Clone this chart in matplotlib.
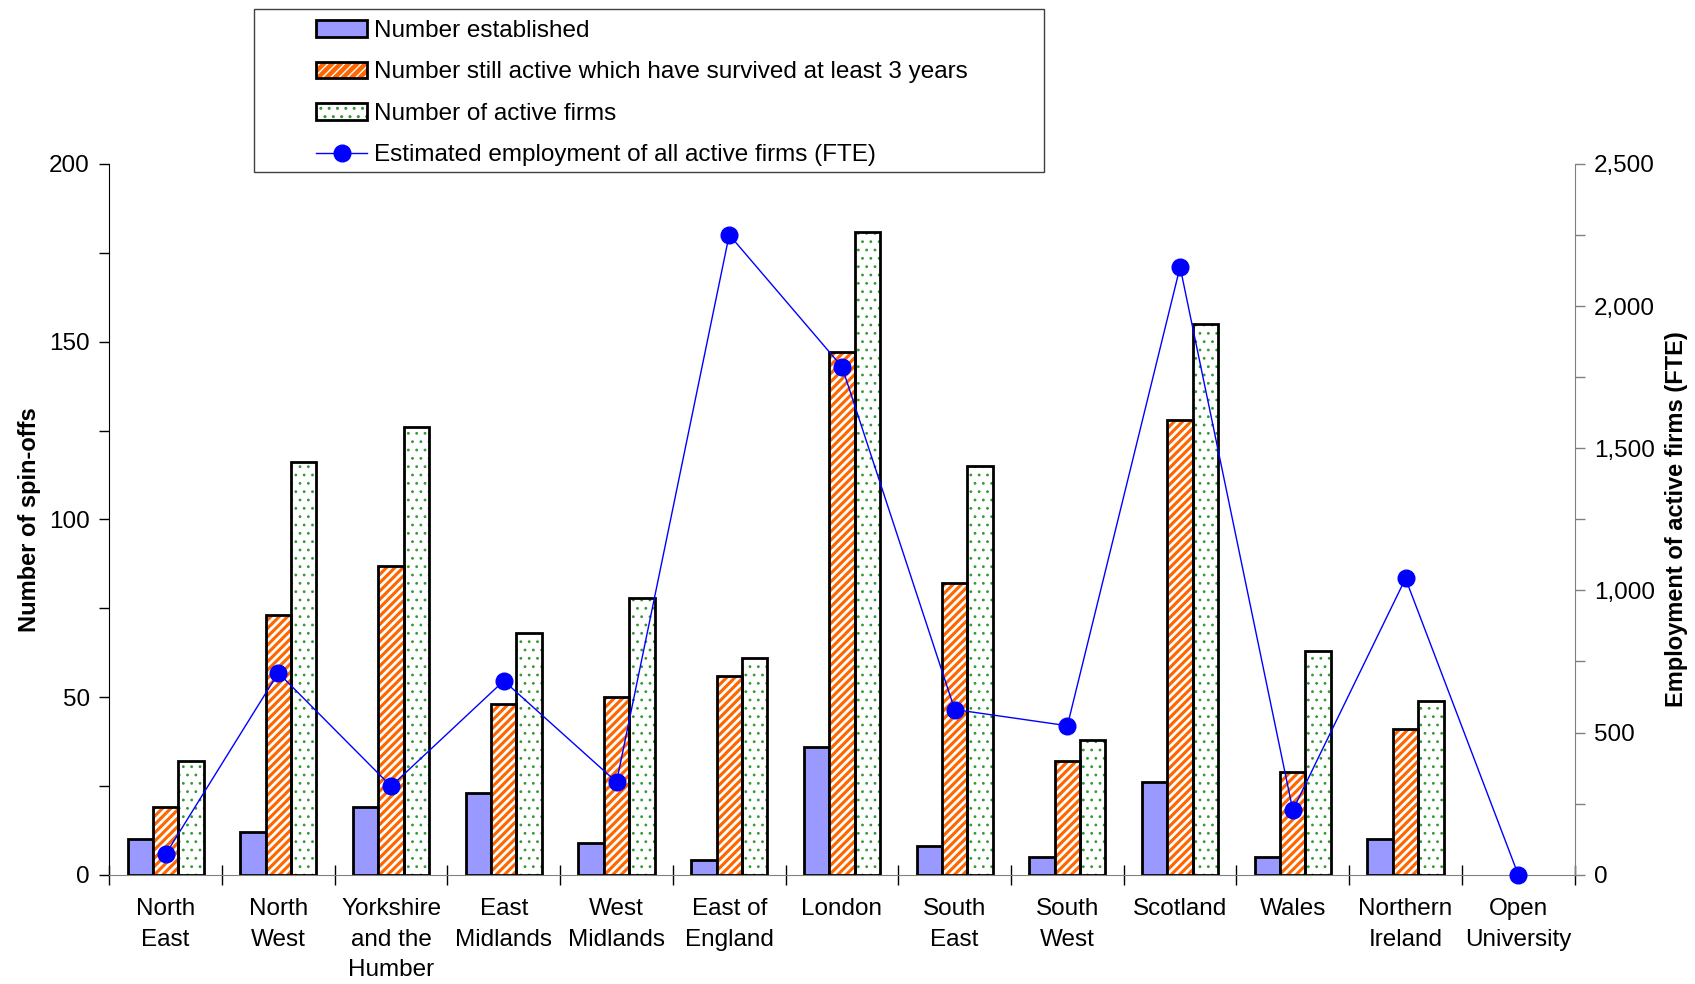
import matplotlib
matplotlib.use("Agg")
import matplotlib.pyplot as plt
import numpy as np
from matplotlib.patches import Rectangle
from matplotlib.ticker import MultipleLocator, FuncFormatter, FixedLocator
from matplotlib.legend_handler import HandlerTuple

plt.rcParams['font.family'] = ['Liberation Sans', 'DejaVu Sans']

categories = ["North\nEast", "North\nWest", "Yorkshire\nand the\nHumber", "East\nMidlands",
              "West\nMidlands", "East of\nEngland", "London", "South\nEast", "South\nWest",
              "Scotland", "Wales", "Northern\nIreland", "Open\nUniversity"]
established = [10, 12, 19, 23, 9, 4, 36, 8, 5, 26, 5, 10, 0]
survived3 = [19, 73, 87, 48, 50, 56, 147, 82, 32, 128, 29, 41, 0]
active = [32, 116, 126, 68, 78, 61, 181, 115, 38, 155, 63, 49, 0]
employment = [72, 710, 311, 682, 326, 2251, 1787, 581, 524, 2138, 227, 1042, 0]

labels = ["Number established",
          "Number still active which have survived at least 3 years",
          "Number of active firms",
          "Estimated employment of all active firms (FTE)"]

FS = 17.5
LFS = 17

W, H = 1695, 984
fig = plt.figure(figsize=(W / 100, H / 100), dpi=100)
ax = fig.add_axes([109.3 / W, 1 - 874.7 / H, (1574.6 - 109.3) / W, (874.7 - 164) / H])

x = np.arange(len(categories))
bw = 0.225
edge_lw = 2.0

b1 = ax.bar(x - bw, established, bw, color="#9999FF", edgecolor="black", linewidth=edge_lw, zorder=2)

with plt.rc_context({'hatch.linewidth': 2.0}):
    b2h = ax.bar(x, survived3, bw, color="#FF6600", edgecolor="white", linewidth=0, hatch="////", zorder=2)
b2e = ax.bar(x, survived3, bw, fill=False, edgecolor="black", linewidth=edge_lw, zorder=3)

with plt.rc_context({'hatch.linewidth': 0.8}):
    b3h = ax.bar(x + bw, active, bw, color="white", edgecolor="#339933", linewidth=0, hatch="..", zorder=2)
b3e = ax.bar(x + bw, active, bw, fill=False, edgecolor="black", linewidth=edge_lw, zorder=3)

for cont in (b1, b2h, b2e, b3h, b3e):
    for p in cont:
        if p.get_height() == 0:
            p.set_visible(False)

ax.set_xlim(-0.5, len(categories) - 0.5)
ax.set_ylim(0, 200)
ax.yaxis.set_major_locator(MultipleLocator(50))
ax.yaxis.set_minor_locator(MultipleLocator(25))
ax.tick_params(axis='y', which='both', direction='out', length=7, width=1, labelsize=FS, pad=7)
ax.set_xticks(x)
ax.set_xticklabels(categories, fontsize=FS, linespacing=1.5)
ax.xaxis.set_minor_locator(FixedLocator(np.arange(-0.5, len(categories), 1.0)))
ax.tick_params(axis='x', which='major', length=0, pad=17)
ax.tick_params(axis='x', which='minor', direction='inout', length=14, width=1)
ax.set_ylabel("Number of spin-offs", fontsize=LFS, fontweight='bold', labelpad=6)

ax.spines['top'].set_visible(False)
ax.spines['right'].set_visible(False)
ax.spines['bottom'].set_color('#808080')
ax.spines['left'].set_color('black')

ax2 = ax.twinx()
ax2.set_ylim(0, 2500)
ax2.yaxis.set_major_locator(MultipleLocator(500))
ax2.yaxis.set_minor_locator(MultipleLocator(250))
ax2.yaxis.set_major_formatter(FuncFormatter(lambda v, p: f"{int(v):,}"))
ax2.tick_params(axis='y', which='both', direction='out', length=7, width=1, labelsize=FS, pad=7, color='#808080')
for s in ['top', 'left', 'bottom']:
    ax2.spines[s].set_visible(False)
ax2.spines['right'].set_color('#808080')
ln, = ax2.plot(x, employment, color="#0000FF", linewidth=1.0, marker='o', markersize=12,
               markerfacecolor="#0000FF", markeredgecolor="#0000FF", zorder=5, clip_on=False)
ax2.set_ylabel("Employment of active firms (FTE)", fontsize=LFS, fontweight='bold', labelpad=7)

# legend
handles = [b1[0], (b2h[0], b2e[0]), (b3h[0], b3e[0]), ln]
leg = fig.legend(handles, labels, loc='upper left', bbox_to_anchor=(299 / W, 1 - 3 / H),
                 frameon=False, fontsize=FS, handlelength=2.1, handleheight=0.66,
                 handletextpad=0.3, labelspacing=0.8, borderpad=0.2,
                 handler_map={tuple: HandlerTuple(ndivide=1, pad=0)})
fig.add_artist(Rectangle((254 / W, 1 - 172 / H), (1044 - 254) / W, (172 - 8.6) / H,
                         transform=fig.transFigure, fill=False, edgecolor='#404040',
                         linewidth=1.0, zorder=10))

fig.savefig("out.png", dpi=100)
